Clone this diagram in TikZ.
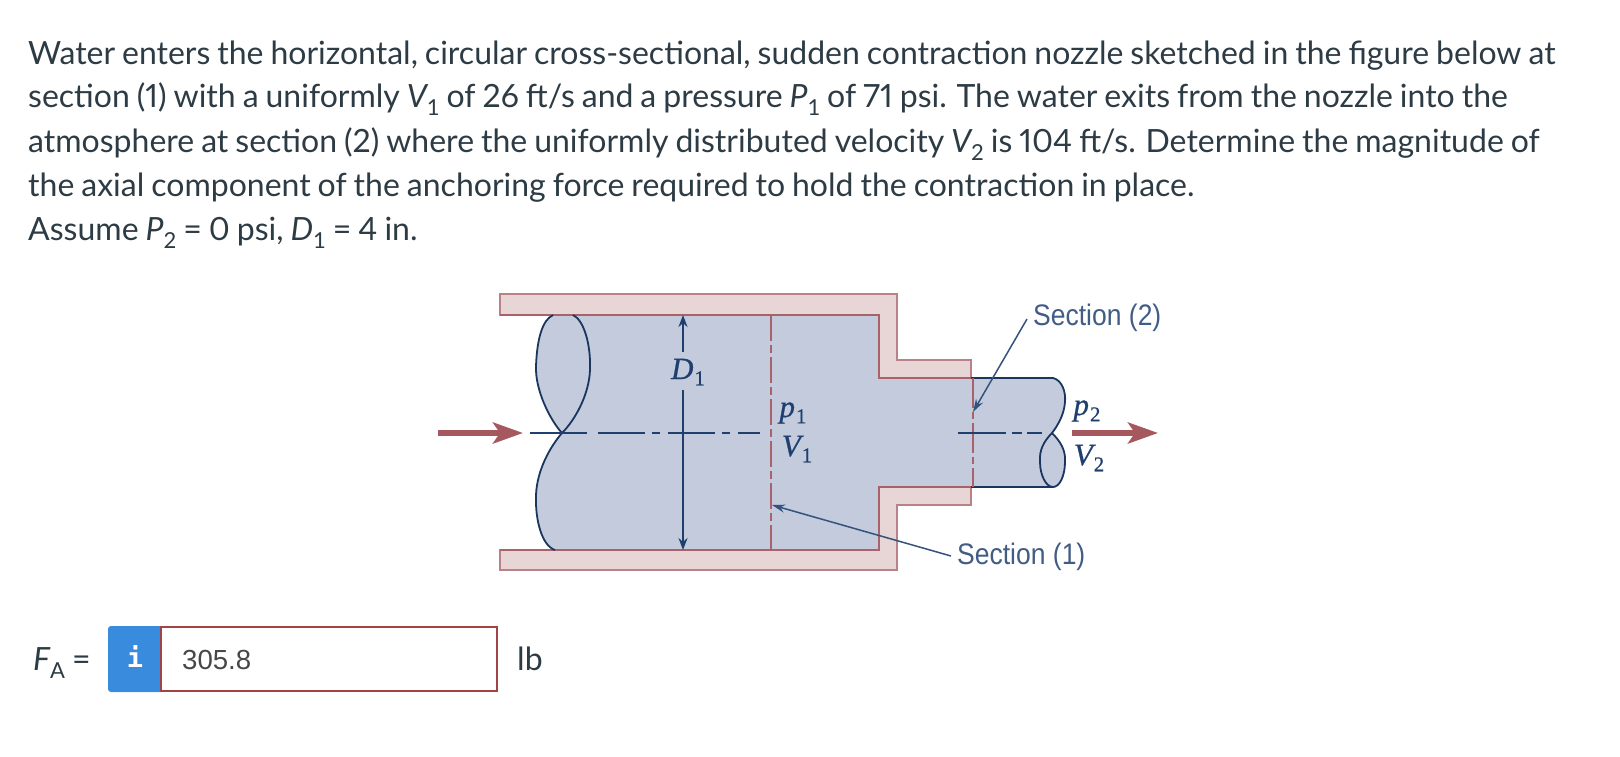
\documentclass[tikz,border=0pt]{standalone}
\usepackage[no-math]{fontspec}
\setmainfont[Numbers={Proportional,Lining},WordSpace=0.85]{Lato}
\newfontfamily\figfont{Liberation Sans}
\newfontfamily\ifont{DejaVu Sans Mono}
\newfontfamily\labfont[FakeBold=0.7]{Liberation Serif}
\usetikzlibrary{arrows.meta}
\definecolor{fluid}{HTML}{C3CBDD}
\definecolor{wallfill}{HTML}{E8D5D5}
\definecolor{wallline}{HTML}{A8636A}
\definecolor{navy}{HTML}{1F3F6F}
\definecolor{bodytxt}{HTML}{2D3B45}
\definecolor{redarrow}{HTML}{A5585E}
\definecolor{infoblue}{HTML}{388BDD}
\definecolor{boxred}{HTML}{A04545}
\newcommand{\subs}[1]{\raisebox{-0.26em}{\fontsize{22}{22}\selectfont\addfontfeature{Numbers={Monospaced,Lining}}#1}}
\newcommand{\vv}[2]{{\itshape #1}\subs{#2}}
\newcommand{\lab}[2]{{\itshape #1}\kern0.03em\raisebox{-0.2em}{\fontsize{21}{21}\selectfont #2}}
\newcommand{\tallsec}[1]{\scalebox{1}[1.12]{#1}}
\tikzset{
  bodyline/.style={anchor=base west,inner sep=0pt,text=bodytxt,font=\fontsize{32}{36}\selectfont},
  wall/.style={draw=wallline!80,fill=wallfill,line width=1.4pt},
  wallinner/.style={draw=wallline,line width=2.4pt},
  secline/.style={draw=wallline,line width=2pt,dash pattern=on 26pt off 4pt on 8pt off 4pt},
  centerline/.style={draw=navy,line width=2pt},
  outline/.style={draw=navy!85!black,line width=1.8pt},
  dimline/.style={draw=navy,line width=1.9pt,-{Stealth[length=12pt,width=9pt]}},
  leader/.style={draw=navy!90,line width=1.5pt,-{Stealth[length=13pt,width=8pt]}},
  flowarrow/.style={draw=redarrow,line width=5.5pt,-{Stealth[length=30pt,width=21pt,inset=7pt]}},
  figlabel/.style={inner sep=0pt,text=navy!85,font=\figfont\fontsize{26.5}{30}\selectfont},
  mathlabel/.style={inner sep=0pt,text=navy,font=\labfont\fontsize{31}{36}\selectfont},
}
\begin{document}
\begin{tikzpicture}[x=1pt,y=-1pt]
\useasboundingbox (0,0) rectangle (1620,756);
% text
\node[bodyline] (l1) at (28,64) {Water enters the horizontal, circular cross-sectional, sudden contraction nozzle sketched in the figure below at};
\node[bodyline] (l2) at (28,107.5) {section (1) with a uniformly \vv{V}{1} of 26 ft/s and a pressure \vv{P}{1} of 71 psi. The water exits from the nozzle into the};
\node[bodyline] (l3) at (28,152) {atmosphere at section (2) where the uniformly distributed velocity \vv{V}{2} is 104 ft/s. Determine the magnitude of};
\node[bodyline] (l4) at (28,196) {the axial component of the anchoring force required to hold the contraction in place.};
\node[bodyline] (l5) at (28,240) {Assume \vv{P}{2} = 0 psi, \vv{D}{1} = 4 in.};
% fluid
\fill[fluid] (553,315) -- (879,315) -- (879,378) -- (1053,378)
  .. controls (1062,380) and (1066,392) .. (1065,402)
  .. controls (1064,415) and (1058,425) .. (1052,433)
  .. controls (1060,441) and (1066,450) .. (1065,462)
  .. controls (1065,475) and (1060,487) .. (1053,487)
  -- (971,487) -- (879,487) -- (879,550) -- (555,550)
  .. controls (542,546) and (535,520) .. (536,495)
  .. controls (537,470) and (550,447) .. (562,433)
  .. controls (550,420) and (535,390) .. (536,366)
  .. controls (537,340) and (542,320) .. (553,315) -- cycle;
% walls
\path[wall] (500,294) -- (897,294) -- (897,360) -- (971,360) -- (971,378) -- (879,378) -- (879,315) -- (500,315) -- cycle;
\path[wall] (500,570) -- (897,570) -- (897,505) -- (971,505) -- (971,487) -- (879,487) -- (879,550) -- (500,550) -- cycle;
\path[wallinner] (500,315) -- (879,315) -- (879,378) -- (971,378);
\path[wallinner] (500,550) -- (879,550) -- (879,487) -- (971,487);
% pipe outlines
\path[outline] (553,315) .. controls (542,320) and (537,340) .. (536,366)
  .. controls (535,390) and (550,420) .. (562,433)
  .. controls (550,447) and (537,470) .. (536,495)
  .. controls (535,520) and (542,546) .. (555,550);
\path[outline] (573,315) .. controls (584,320) and (591,345) .. (590,370)
  .. controls (589,395) and (575,420) .. (562,433);
\path[outline] (971,378) -- (1053,378)
  .. controls (1062,380) and (1066,392) .. (1065,402)
  .. controls (1064,415) and (1058,425) .. (1052,433)
  .. controls (1060,441) and (1066,450) .. (1065,462)
  .. controls (1065,475) and (1060,487) .. (1053,487) -- (971,487);
\path[outline] (1052,433) .. controls (1044,441) and (1039,450) .. (1040,462)
  .. controls (1040,475) and (1046,487) .. (1053,487);
% section lines
\coordinate (s1t) at (771,315); \coordinate (s1b) at (771,550);
\coordinate (s2t) at (973,378); \coordinate (s2b) at (973,487);
\path[secline] (s1t) -- (s1b);
\path[secline,dash pattern=on 30pt off 4pt on 7pt off 4pt] (s2t) -- (s2b);
% centre lines
\coordinate (c1a) at (530,433); \coordinate (c1b) at (760,433);
\path[centerline,dash pattern=on 57pt off 11pt on 47pt off 7pt on 8pt off 8pt on 47pt off 7pt on 8pt off 8pt] (c1a) -- (c1b);
\coordinate (c2a) at (958,433); \coordinate (c2b) at (1042,433);
\path[centerline,dash pattern=on 48pt off 6pt on 10pt off 5pt on 15pt off 5pt] (c2a) -- (c2b);
% dimension
\node[mathlabel] (d1) at (688,372) {\lab{D}{1}};
\coordinate (dtop) at (683,315); \coordinate (dbot) at (683,550);
\draw[dimline] (683,352) -- (dtop);
\draw[dimline] (683,390) -- (dbot);
% labels
\node[mathlabel] (p1) at (793,413) {\lab{p}{1}};
\node[mathlabel] (v1) at (797,449) {\lab{V}{1}};
\node[mathlabel] (p2) at (1087,411) {\lab{p}{2}};
\node[mathlabel] (v2) at (1089,458) {\lab{V}{2}};
\node[figlabel,anchor=west] (sec2) at (1033,318) {\tallsec{Section (2)}};
\node[figlabel,anchor=west] (sec1) at (957,557) {\tallsec{Section (1)}};
\coordinate (s2tip) at (973,412);
\coordinate (s1tip) at (772,505);
\draw[leader] (sec2.west) ++(-6,1) -- (s2tip);
\draw[leader] (sec1.west) ++(-6,-1) -- (s1tip);
% flow arrows
\coordinate (ina) at (438,433); \coordinate (inb) at (523,433);
\coordinate (outa) at (1072,433); \coordinate (outb) at (1158,433);
\draw[flowarrow] (ina) -- (inb);
\draw[flowarrow] (outa) -- (outb);
% answer row
\node[anchor=base west,inner sep=0pt,text=bodytxt,font=\fontsize{32}{36}\selectfont] (fa) at (33,670) {\vv{F}{A} =};
\fill[infoblue,rounded corners=3pt] (108,626) rectangle (164,692);
\node[inner sep=0pt,text=white,font=\ifont\fontsize{27}{30}\bfseries\selectfont] (info) at (135,657) {i};
\draw[boxred,line width=2pt,fill=white] (161,627) rectangle (497,691);
\node[anchor=base west,inner sep=0pt,text=black!72,font=\figfont\fontsize{27.6}{32}\selectfont] (val) at (182,669) {305.8};
\node[anchor=base west,inner sep=0pt,text=bodytxt,font=\fontsize{32}{36}\selectfont] (lb) at (517,670) {lb};
\end{tikzpicture}
\end{document}
